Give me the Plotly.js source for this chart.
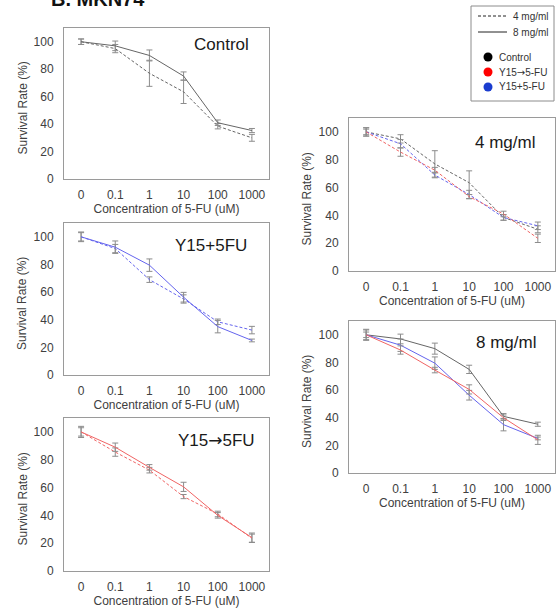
<!DOCTYPE html>
<html>
<head>
<meta charset="utf-8">
<script src="https://cdn.plot.ly/plotly-3.0.1.min.js"></script>
<style>html,body{margin:0;padding:0;background:#fff;}#chart{width:556px;height:612px;}</style>
</head>
<body>
<div id="chart"></div>
<script>
// ---- data ----
const concentrations = ['0', '0.1', '1', '10', '100', '1000'];
const yTicks = [0, 20, 40, 60, 80, 100];

const control4 = [100, 95, 77, 63.5, 38.5, 30];
const control4Err = [2, 3, 9.5, 8.5, 2, 2.5];
const control8 = [100, 97, 90, 75, 41, 35.3];
const control8Err = [2, 3.5, 4, 3, 2, 1.5];

const y15plus4 = [100, 91.5, 69, 55, 38.5, 32.5];
const y15plus4Err = [3, 3, 2, 3, 2, 2.7];
const y15plus8 = [100, 92.5, 79.5, 56.3, 35, 25];
const y15plus8Err = [3.5, 4.5, 4.5, 3.5, 4.5, 1];

const y15then4 = [100, 85.5, 72.5, 53.5, 41, 23.5];
const y15then4Err = [3, 3, 2, 1.5, 2, 3];
const y15then8 = [100, 89, 74.5, 60.5, 40, 24];
const y15then8Err = [4, 3, 2, 3.3, 2, 3.3];

const ARROW = '<span style="font-family:DejaVu Sans">\u2192</span>';
const panelTitles = ['Control', 'Y15+5FU', 'Y15' + ARROW + '5FU', '4 mg/ml', '8 mg/ml'];
const legendLines = ['4 mg/ml', '8 mg/ml'];
const legendGroups = ['Control', 'Y15' + ARROW + '5-FU', 'Y15+5-FU'];
const xTitle = 'Concentration of 5-FU (uM)';
const yTitle = 'Survival Rate (%)';

// ---- styles ----
const W = 556, H = 612;
const px = x => x / W;
const py = y => 1 - y / H;
const FONT = 'Liberation Sans, Arial, sans-serif';
const TXT = '#404040';
const C_CTRL = '#666666', C_RED = '#f06464', C_BLUE = '#6464ee';
const ERR_C = '#8c8c8c';
const DASH = '3px,2px';

function tr(y, err, color, dash, n) {
  return {
    x: concentrations, y: y, type: 'scatter', mode: 'lines',
    line: {color: color, width: 1, dash: dash},
    error_y: {type: 'data', array: err, visible: true, color: ERR_C, thickness: 1, width: 3},
    xaxis: 'x' + (n === 1 ? '' : n), yaxis: 'y' + (n === 1 ? '' : n),
    showlegend: false, hoverinfo: 'skip'
  };
}

const data = [
  tr(control4, control4Err, C_CTRL, DASH, 1),
  tr(control8, control8Err, C_CTRL, 'solid', 1),
  tr(y15plus4, y15plus4Err, C_BLUE, DASH, 2),
  tr(y15plus8, y15plus8Err, C_BLUE, 'solid', 2),
  tr(y15then4, y15then4Err, C_RED, DASH, 3),
  tr(y15then8, y15then8Err, C_RED, 'solid', 3),
  tr(control4, control4Err, C_CTRL, DASH, 4),
  tr(y15plus4, y15plus4Err, C_BLUE, DASH, 4),
  tr(y15then4, y15then4Err, C_RED, DASH, 4),
  tr(control8, control8Err, C_CTRL, 'solid', 5),
  tr(y15plus8, y15plus8Err, C_BLUE, 'solid', 5),
  tr(y15then8, y15then8Err, C_RED, 'solid', 5)
];

// panel boxes in px: [left, right, top, bottom]
const boxes = [
  [64, 269, 28, 179],
  [64, 269, 223, 375],
  [64, 269, 418, 571],
  [349, 555, 118, 271],
  [349, 555, 321, 473]
];

const layout = {
  width: W, height: H,
  margin: {l: 0, r: 0, t: 0, b: 0},
  paper_bgcolor: '#fff', plot_bgcolor: '#fff',
  font: {family: FONT, size: 12, color: TXT},
  showlegend: false,
  annotations: [], shapes: []
};

boxes.forEach((b, i) => {
  const n = i + 1, s = n === 1 ? '' : n;
  layout['xaxis' + s] = {
    domain: [px(b[0]), px(b[1])], anchor: 'y' + s,
    type: 'category', range: [-0.5, 5.5],
    showline: true, mirror: true, linecolor: '#9a9a9a', linewidth: 1,
    showgrid: false, zeroline: false, ticks: '', ticklabelstandoff: 5,
    tickfont: {family: FONT, size: 12, color: TXT},
    title: {text: xTitle, font: {family: FONT, size: 12, color: TXT}, standoff: 2},
    fixedrange: true
  };
  layout['yaxis' + s] = {
    domain: [py(b[3]), py(b[2])], anchor: 'x' + s,
    range: [0, 110], tickvals: yTicks,
    showline: true, mirror: true, linecolor: '#9a9a9a', linewidth: 1,
    showgrid: false, zeroline: false, ticks: '', ticklabelstandoff: 7,
    tickfont: {family: FONT, size: 12, color: TXT},
    fixedrange: true
  };
  // y-axis title placed as rotated text
  layout.annotations.push({
    text: yTitle, xref: 'paper', yref: 'paper', textangle: -90,
    x: px(b[0] - 42), y: py((b[2] + b[3]) / 2 + 5),
    xanchor: 'center', yanchor: 'middle', showarrow: false,
    font: {family: FONT, size: 12, color: TXT}
  });
});

// panel titles
const titlePos = [[221, 45], [211, 245], [216, 440], [505, 142], [505.5, 342]];
panelTitles.forEach((t, i) => {
  layout.annotations.push({
    text: t, xref: 'paper', yref: 'paper', x: px(titlePos[i][0]), y: py(titlePos[i][1]),
    xanchor: 'center', yanchor: 'middle', showarrow: false,
    font: {family: FONT, size: 17, color: '#1a1a1a'}
  });
});

// figure label (cut off at top edge, as in the reference)
layout.annotations.push({
  text: '<b>B. MKN74</b>', xref: 'paper', yref: 'paper', x: px(49), y: py(-1),
  xanchor: 'left', yanchor: 'middle', showarrow: false,
  font: {family: FONT, size: 20, color: '#111'}
});

// custom legend box
layout.shapes.push({type: 'rect', xref: 'paper', yref: 'paper',
  x0: px(471), x1: px(554), y0: py(101), y1: py(6),
  line: {color: '#8c8c8c', width: 1}, fillcolor: 'rgba(0,0,0,0)'});
const lineDash = [DASH, 'solid'];
const lineY = [16, 32];
legendLines.forEach((t, i) => {
  layout.shapes.push({type: 'line', xref: 'paper', yref: 'paper',
    x0: px(478), x1: px(507), y0: py(lineY[i]), y1: py(lineY[i]),
    line: {color: '#222', width: 1, dash: lineDash[i]}});
  layout.annotations.push({text: t, xref: 'paper', yref: 'paper', x: px(511), y: py(lineY[i]),
    xanchor: 'left', yanchor: 'middle', showarrow: false, font: {family: FONT, size: 10, color: '#333'}});
});
const dotColors = ['#000000', '#ff0000', '#1a3ccf'];
const dotY = [57, 72, 87];
legendGroups.forEach((t, i) => {
  layout.shapes.push({type: 'circle', xref: 'paper', yref: 'paper',
    x0: px(483.5), x1: px(492.5), y0: py(dotY[i] + 4.5), y1: py(dotY[i] - 4.5),
    line: {color: dotColors[i], width: 0}, fillcolor: dotColors[i]});
  layout.annotations.push({text: t, xref: 'paper', yref: 'paper', x: px(497), y: py(dotY[i]),
    xanchor: 'left', yanchor: 'middle', showarrow: false, font: {family: FONT, size: 10, color: '#333'}});
});

Plotly.newPlot('chart', data, layout, {staticPlot: true, displayModeBar: false});
</script>
</body>
</html>
